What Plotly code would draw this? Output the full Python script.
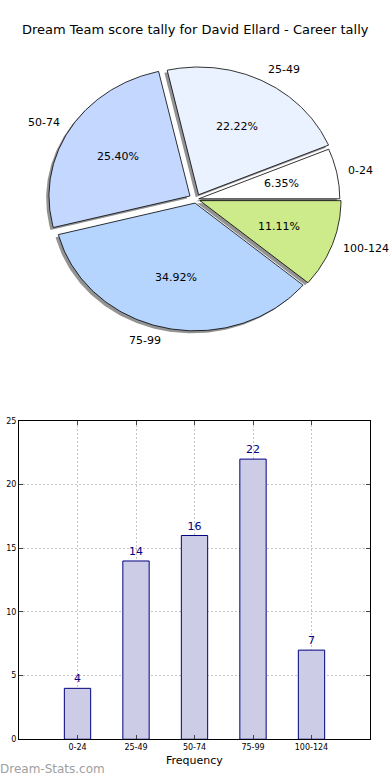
import numpy as np
import plotly.graph_objects as go

# ---- data ----
categories = ["0-24", "25-49", "50-74", "75-99", "100-124"]
tally = [4, 14, 16, 22, 7]
pie_colors = ["#FFFFFF", "#EBF2FF", "#C4D8FF", "#B5D5FF", "#CDEB8B"]
explode = [0.02, 0.04, 0.05, 0.03, 0.03]
title_text = "Dream Team score tally for David Ellard - Career tally"
x_title = "Frequency"
y_title = "Dream Team Tally"
watermark = "Dream-Stats.com"

W, H = 390, 780
# pie geometry (pixels)
CX, CY, RX, RY = 196.0, 199.0, 141.0, 128.0
SHX, SHY = -0.02 * RX, 0.02 * RY
# vertical pixel frame of the overlay axis
Y_TOP, Y_BOT = 3.3, 775.8


def frac_y(py):
    """paper fraction for a pixel row in the overlay frame"""
    return 1 - (py - Y_TOP) / (Y_BOT - Y_TOP)


fig = go.Figure()

total = float(sum(tally))
fracs = [v / total for v in tally]

wedges = []
theta = 0.0
for i, f in enumerate(fracs):
    t1, t2 = theta, theta + 360.0 * f
    mid = np.deg2rad((t1 + t2) / 2)
    cx = CX + explode[i] * RX * np.cos(mid)
    cy = CY - explode[i] * RY * np.sin(mid)
    ts = np.deg2rad(np.linspace(t1, t2, 120))
    xs = np.concatenate([[cx], cx + RX * np.cos(ts), [cx]])
    ys = np.concatenate([[cy], cy - RY * np.sin(ts), [cy]])
    wedges.append((xs, ys, cx, cy, mid))
    theta = t2

# shadows first
for xs, ys, cx, cy, mid in wedges:
    fig.add_trace(go.Scatter(x=xs + SHX, y=ys + SHY, xaxis="x2", yaxis="y2",
                             mode="lines", fill="toself",
                             fillcolor="rgba(40,40,40,0.5)", line=dict(width=0),
                             hoverinfo="skip", showlegend=False))
for i, (xs, ys, cx, cy, mid) in enumerate(wedges):
    fig.add_trace(go.Scatter(x=xs, y=ys, xaxis="x2", yaxis="y2",
                             mode="lines", fill="toself",
                             fillcolor=pie_colors[i], line=dict(color="black", width=0.8),
                             name=categories[i], hoverinfo="name", showlegend=False))

annotations = []
for i, (xs, ys, cx, cy, mid) in enumerate(wedges):
    lx = cx + 1.08 * RX * np.cos(mid)
    ly = cy - 1.1 * RY * np.sin(mid)
    annotations.append(dict(x=lx, y=ly, xref="x2", yref="y2", text=categories[i],
                            showarrow=False, xanchor="left" if np.cos(mid) > 0 else "right",
                            yanchor="middle", borderpad=0, borderwidth=0,
                            font=dict(size=11, color="black")))
    px = cx + 0.6 * RX * np.cos(mid)
    py = cy - 0.6 * RY * np.sin(mid)
    annotations.append(dict(x=px, y=py, xref="x2", yref="y2",
                            text="%.2f%%" % (100 * fracs[i]),
                            showarrow=False, xanchor="center", yanchor="middle",
                            font=dict(size=11, color="black")))

# ---- bar chart ----
xpos = list(range(len(categories)))
fig.add_trace(go.Bar(x=xpos, y=tally, width=0.45, marker=dict(color="#CCCCE6",
                     line=dict(color="#000080", width=1)),
                     text=[str(v) for v in tally], textposition="outside",
                     textfont=dict(color="#000080", size=11), cliponaxis=False,
                     showlegend=False, xaxis="x", yaxis="y"))

annotations.append(dict(x=0.5, y=29, xref="paper", yref="y2", text=title_text, showarrow=False,
                        xanchor="center", yanchor="middle", font=dict(size=13, color="black")))
annotations.append(dict(x=-1.5, y=580, xref="x2", yref="y2", text=y_title, textangle=-90,
                        showarrow=False, xanchor="center", yanchor="middle",
                        font=dict(size=11, color="black")))
annotations.append(dict(x=0, y=770, xref="x2", yref="y2", text=watermark, showarrow=False,
                        xanchor="left", yanchor="middle", borderpad=0, borderwidth=0,
                        font=dict(size=12, color="#A0A0A0", family="DejaVu Sans")))
annotations.append(dict(x=194, y=761, xref="x2", yref="y2", text=x_title, showarrow=False,
                        xanchor="center", yanchor="middle", font=dict(size=11, color="black")))

grid = dict(showgrid=True, gridcolor="#c4c4c4", griddash="2px,2px", gridwidth=1)
fig.update_layout(
    width=W, height=H, autosize=False,
    margin=dict(l=0, r=0, t=0, b=0),
    paper_bgcolor="white", plot_bgcolor="rgba(0,0,0,0)",
    font=dict(family="DejaVu Sans", color="black"),
    annotations=annotations,
    xaxis=dict(domain=[19 / W, 370 / W], range=[-1, 5], tickmode="array",
               tickvals=xpos, ticktext=categories, tickfont=dict(size=8),
               ticks="inside", ticklen=4, showline=True, mirror="ticks",
               linecolor="black", linewidth=1, zeroline=False, **grid),
    yaxis=dict(domain=[frac_y(740), frac_y(421)], range=[0, 25], dtick=5,
               tickfont=dict(size=8), ticks="inside", ticklen=4,
               showline=True, mirror="ticks", linecolor="black", linewidth=1,
               zeroline=False, **grid),
    xaxis2=dict(domain=[0, 1], range=[0, W], visible=False, anchor="y2", fixedrange=True),
    yaxis2=dict(domain=[0, 1], range=[Y_BOT, Y_TOP], visible=False, anchor="x2", fixedrange=True),
)

fig.write_html("out.html", config={"displayModeBar": False},
               post_script="var d=document.getElementById('{plot_id}');"
                           "d.style.position='fixed';d.style.top='0px';d.style.left='0px';"
                           "document.body.style.margin='0px';"
                           "document.body.style.overflow='hidden';")
